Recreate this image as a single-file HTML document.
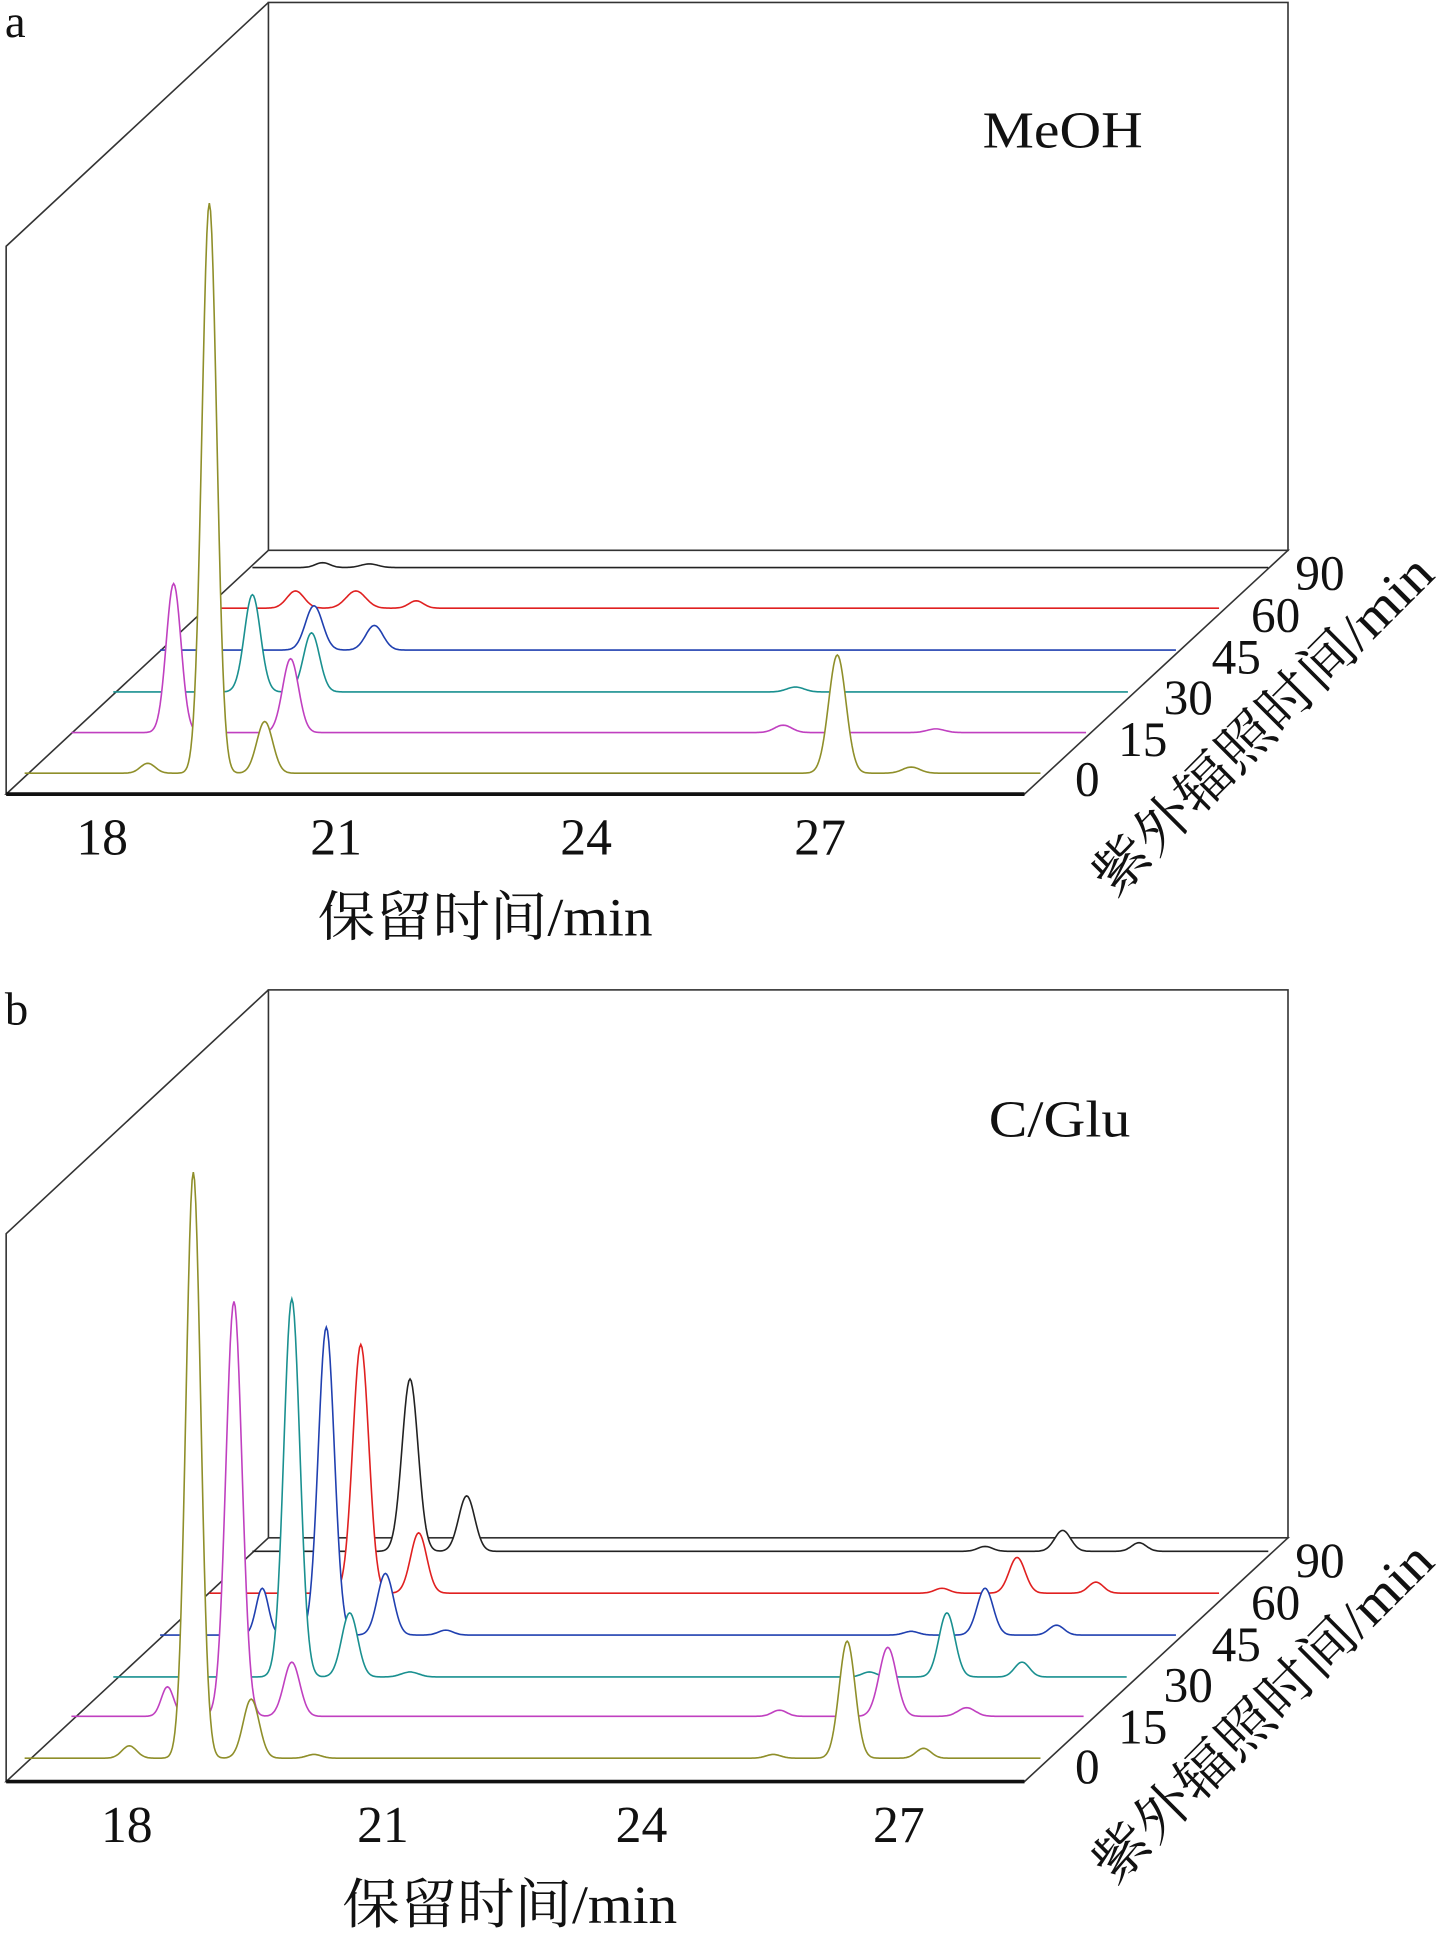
<!DOCTYPE html>
<html><head><meta charset="utf-8">
<style>
html,body{margin:0;padding:0;background:#fff;}
svg{display:block;}
text{font-family:"Liberation Serif","Noto Serif CJK SC",serif;fill:#111;}
</style></head>
<body>
<svg id="s" width="1453" height="1933" viewBox="0 0 1180 1570" preserveAspectRatio="none" xmlns="http://www.w3.org/2000/svg">
<text x="4" y="30" font-size="38">a</text>
<text x="798" y="120" font-size="42" textLength="130" lengthAdjust="spacingAndGlyphs">MeOH</text>
<text x="62" y="694" font-size="42">18</text>
<text x="252" y="694" font-size="42">21</text>
<text x="455" y="694" font-size="42">24</text>
<text x="645" y="694" font-size="42">27</text>
<text x="258" y="760" font-size="44" textLength="272" lengthAdjust="spacingAndGlyphs">保留时间/min</text>
<text x="873" y="646" font-size="40">0</text>
<text x="908" y="614" font-size="40">15</text>
<text x="945" y="580" font-size="40">30</text>
<text x="984" y="547" font-size="40">45</text>
<text x="1016" y="513" font-size="40">60</text>
<text x="1052" y="479" font-size="40">90</text>
<text font-size="44" textLength="370" lengthAdjust="spacingAndGlyphs" transform="translate(905,730) rotate(-45)">紫外辐照时间/min</text>

<text x="4" y="832" font-size="38">b</text>
<text x="803" y="923" font-size="42" textLength="115" lengthAdjust="spacingAndGlyphs">C/Glu</text>
<text x="82" y="1496" font-size="42">18</text>
<text x="290" y="1496" font-size="42">21</text>
<text x="500" y="1496" font-size="42">24</text>
<text x="709" y="1496" font-size="42">27</text>
<text x="278" y="1562" font-size="44" textLength="272" lengthAdjust="spacingAndGlyphs">保留时间/min</text>
<text x="873" y="1448" font-size="40">0</text>
<text x="908" y="1416" font-size="40">15</text>
<text x="945" y="1382" font-size="40">30</text>
<text x="984" y="1349" font-size="40">45</text>
<text x="1016" y="1315" font-size="40">60</text>
<text x="1052" y="1281" font-size="40">90</text>
<text font-size="44" textLength="370" lengthAdjust="spacingAndGlyphs" transform="translate(905,1532) rotate(-45)">紫外辐照时间/min</text>
</svg>
<script>
(function(){
var NS="http://www.w3.org/2000/svg",svg=document.getElementById("s");
function el(n,a){var e=document.createElementNS(NS,n);for(var k in a)e.setAttribute(k,a[k]);svg.insertBefore(e,svg.querySelector("text"));return e;}
function frame(o){
 el("rect",{x:218,y:2+o,width:828,height:445,fill:"none",stroke:"#333","stroke-width":1.3});
 el("polyline",{points:"218,"+(2+o)+" 5,"+(200+o)+" 5,"+(645+o),fill:"none",stroke:"#333","stroke-width":1.3});
 el("polygon",{points:"5,"+(645+o)+" 218,"+(447+o)+" 1046,"+(447+o)+" 832,"+(645+o),fill:"#fff",stroke:"#333","stroke-width":1.3});
 el("line",{x1:5,y1:645+o,x2:832,y2:645+o,stroke:"#111","stroke-width":3});
}
function series(y0,x0,x1,peaks,col){
 var d="M"+x0+","+y0;
 for(var x=x0;x<=x1;x+=1){
  var h=0;peaks.forEach(function(p){var s=p[2]||6.5;h+=(y0-p[1])*Math.exp(-Math.pow(x-p[0],2)/(2*s*s));});
  d+=" L"+x+","+(y0-h).toFixed(1);
 }
 el("path",{d:d+" L"+x1+","+y0+" Z",fill:"#fff",stroke:"none"});
 el("path",{d:d,fill:"none",stroke:col,"stroke-width":1.3});
}
var OL="#8f8f2a",MG="#c040c0",TL="#1a9090",BL="#2040b0",RD="#e02020",BK="#222";
frame(0);
series(461,205,1030,[[262,457,6],[300,458,7]],BK);
series(494,170,990,[[240,480,7],[289,480,8],[338,488,6]],RD);
series(528,130,955,[[255,492,7],[304,508,7]],BL);
series(562,92,916,[[205,483,6.5],[253,514,6.5],[646,558,7]],TL);
series(595,58,882,[[141,474,6],[236,535,6.5],[636,589,7],[760,592,7]],MG);
series(628,20,845,[[120,620,6],[170,165,6],[215,586,6.5],[680,532,7],[740,623,7]],OL);
var o=802;
frame(o);
series(1260,205,1030,[[333,1120,6.5],[379,1215,6.5],[800,1256,6],[863,1243,6.5],[925,1253,6]],BK);
series(1294,170,990,[[293,1092,6.5],[340,1245,6.5],[765,1290,6],[826,1265,6.5],[890,1285,6]],RD);
series(1328,130,955,[[213,1290,5],[265,1078,6.5],[313,1278,6.5],[362,1324,6],[740,1325,6],[800,1290,6.5],[858,1320,6]],BL);
series(1362,92,915,[[237,1055,6.5],[284,1310,6.5],[333,1358,7],[706,1358,6],[769,1310,6.5],[830,1350,6]],TL);
series(1394,58,880,[[136,1370,5],[190,1057,6.5],[237,1350,6.5],[633,1389,6],[721,1338,7],[785,1387,7]],MG);
series(1428,20,845,[[105,1418,6],[157,952,6],[204,1380,6.5],[255,1425,6],[628,1425,6],[688,1333,6.5],[750,1420,6]],OL);
})();
</script>
</body></html>
